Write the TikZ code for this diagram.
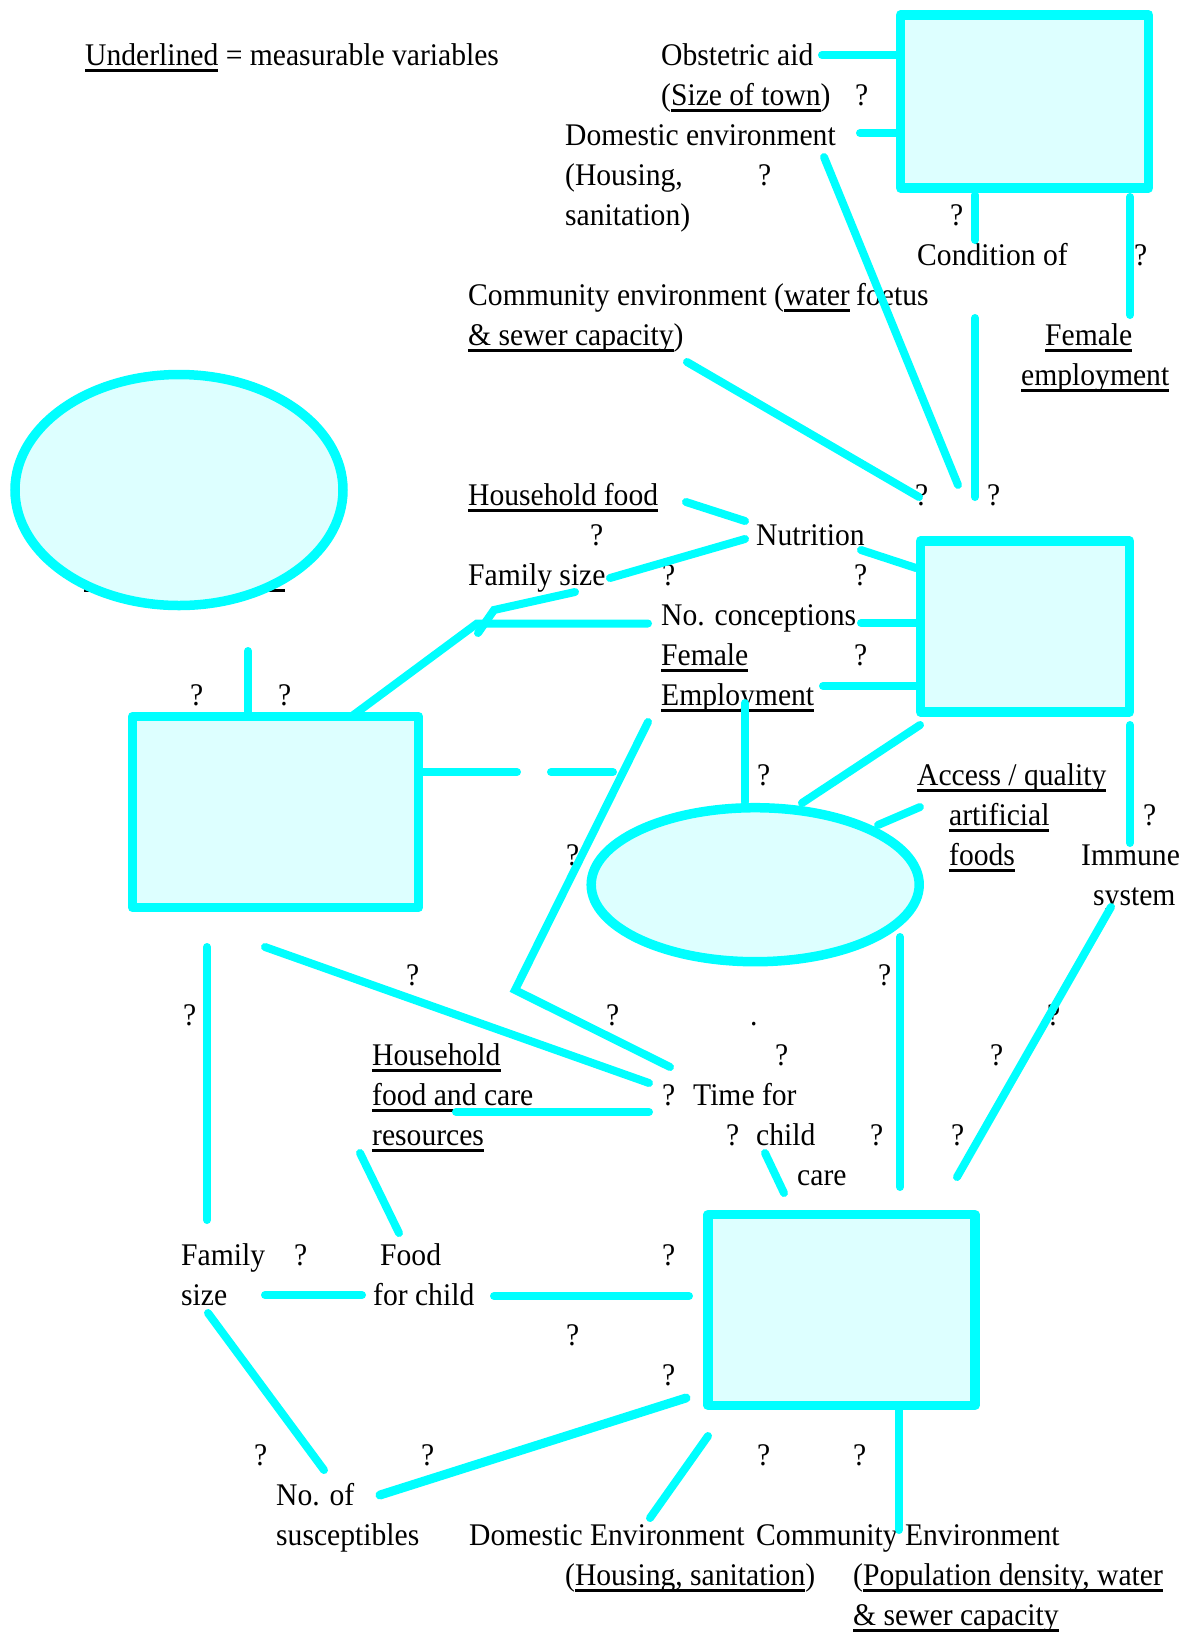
\documentclass[tikz,border=0pt]{standalone}
\usepackage{fontspec}
\setmainfont{Liberation Serif}[FakeStretch=0.94]
\usetikzlibrary{shapes.geometric}
\definecolor{aqua}{RGB}{0,255,255}
\definecolor{paleaqua}{RGB}{221,255,255}
\newsavebox{\undlbox}
\newcommand{\undl}[1]{\sbox{\undlbox}{#1}\rlap{\rule[-6.7pt]{\wd\undlbox}{3.2pt}}\usebox{\undlbox}}
\newcommand{\wordfont}{\fontsize{31.5pt}{40pt}\selectfont}
\tikzset{
  word/.style={anchor=base west, inner sep=0pt, font=\wordfont},
  link/.style={draw=aqua, line width=8pt, line cap=round},
  panel/.style={rectangle, draw=aqua, fill=paleaqua, line width=9.5pt, line join=round, inner sep=0pt},
  oval/.style={ellipse, draw=aqua, fill=paleaqua, line width=9.5pt, inner sep=0pt}
}
\begin{document}
\begin{tikzpicture}[x=1pt,y=-1pt]
\useasboundingbox (0,0) rectangle (1182,1634);
\fill[white] (0,0) rectangle (1182,1634);
% texts, top part
\node[word] (key) at (85,65) {\undl{Underlined} = measurable variables};
\node[word] (obst) at (661,65) {Obstetric aid};
\node[word] (town) at (661,105) {(\undl{Size of town})};
\node[word] (q1) at (855,105) {?};
\node[word] (domenv) at (565,145) {Domestic environment};
\node[word] (housing) at (565,185) {(Housing,};
\node[word] (q2) at (758,185) {?};
\node[word] (sanit) at (565,225) {sanitation)};
\node[word] (q3) at (950,225) {?};
\node[word] (cond) at (917,265) {Condition of};
\node[word] (q4) at (1134,265) {?};
\node[word] (commenv) at (468,305) {Community environment (\undl{water}};
\node[word] (foetus) at (856,305) {foetus};
\node[word] (sewer) at (468,345) {\undl{\& sewer capacity})};
\node[word] (femtop) at (1045,345) {\undl{Female}};
\node[word] (empltop) at (1021,385) {\undl{employment}};
% middle part
\node[word] (hhfood) at (468,505) {\undl{Household food}};
\node[word] (q5) at (915,505) {?};
\node[word] (q6) at (987,505) {?};
\node[word] (q7) at (590,545) {?};
\node[word] (nutr) at (756,545) {Nutrition};
\node[word] (famsize) at (468,585) {Family size};
\node[word] (q8) at (662,585) {?};
\node[word] (q9) at (854,585) {?};
\node[word] (concep) at (661,625) {No. conceptions};
\node[word] (femmid) at (661,665) {\undl{Female}};
\node[word] (q10) at (854,665) {?};
\node[word] (emplmid) at (661,705) {\undl{Employment}};
\node[word] (q11) at (190,705) {?};
\node[word] (q12) at (278,705) {?};
\node[word] (q13) at (757,785) {?};
\node[word] (access) at (917,785) {\undl{Access / quality}};
\node[word] (artif) at (949,825) {\undl{artificial}};
\node[word] (q14) at (1143,825) {?};
\node[word] (q15) at (566,865) {?};
\node[word] (foods) at (949,865) {\undl{foods}};
\node[word] (immune) at (1081,865) {Immune};
\node[word] (system) at (1093,905) {system};
% lower part
\node[word] (q16) at (406,985) {?};
\node[word] (q17) at (878,985) {?};
\node[word] (q18) at (183,1025) {?};
\node[word] (q19) at (606,1025) {?};
\node[word] (dot) at (750,1025) {.};
\node[word] (q20) at (1047,1025) {?};
\node[word] (hhcare) at (372,1065) {\undl{Household}};
\node[word] (q21) at (775,1065) {?};
\node[word] (q22) at (990,1065) {?};
\node[word] (foodcare) at (372,1105) {\undl{food and care}};
\node[word] (q23) at (662,1105) {?};
\node[word] (timefor) at (693,1105) {Time for};
\node[word] (resour) at (372,1145) {\undl{resources}};
\node[word] (q24) at (726,1145) {?};
\node[word] (child) at (756,1145) {child};
\node[word] (q25) at (870,1145) {?};
\node[word] (q26) at (951,1145) {?};
\node[word] (care) at (797,1185) {care};
\node[word] (family) at (181,1265) {Family};
\node[word] (q27) at (294,1265) {?};
\node[word] (food) at (380,1265) {Food};
\node[word] (q28) at (662,1265) {?};
\node[word] (size) at (181,1305) {size};
\node[word] (forchild) at (373,1305) {for child};
\node[word] (q29) at (566,1345) {?};
\node[word] (q30) at (662,1385) {?};
\node[word] (q31) at (254,1465) {?};
\node[word] (q32) at (421,1465) {?};
\node[word] (q33) at (757,1465) {?};
\node[word] (q34) at (853,1465) {?};
\node[word] (noof) at (276,1505) {No. of};
\node[word] (suscep) at (276,1545) {susceptibles};
\node[word] (domenv2) at (469,1545) {Domestic Environment};
\node[word] (commenv2) at (756,1545) {Community Environment};
\node[word] (housing2) at (565,1585) {(\undl{Housing, sanitation})};
\node[word] (popul) at (853,1585) {(\undl{Population density, water}};
\node[word] (sewer2) at (853,1625) {\undl{\& sewer capacity}};
% underline left under the left oval
\fill (84,588.8) rectangle (285,592);
% connectors
\draw[link] (822,55) -- (896,55);
\draw[link] (860,133) -- (896,133);
\draw[link] (824,157) -- (958,485);
\draw[link] (687,362) -- (919,497);
\draw[link] (975,195) -- (975,240);
\draw[link] (975,318) -- (975,497);
\draw[link] (1130,197) -- (1130,315);
\draw[link] (686,502) -- (745,521);
\draw[link] (610,578) -- (745,539);
\draw[link] (861,550) -- (916,568);
\draw[link] (861,623) -- (916,623);
\draw[link] (823,686) -- (916,686);
\draw[link] (344,722) -- (477,623.5) -- (648,623.5);
\draw[link] (575,592) -- (494,610) -- (478,633);
\draw[link] (421,772) -- (517,772);
\draw[link] (551,772) -- (613,772);
\draw[link] (648,722) -- (515,990) -- (670,1067);
\draw[link] (265,947) -- (649,1083);
\draw[link] (456,1112) -- (649,1112);
\draw[link] (207,947) -- (207,1220);
\draw[link] (360,1153) -- (399,1233);
\draw[link] (265,1295) -- (362,1295);
\draw[link] (494,1296) -- (689,1296);
\draw[link] (900,937) -- (900,1187);
\draw[link] (1111,907) -- (957,1177);
\draw[link] (765,1153) -- (784,1193);
\draw[link] (920,725) -- (802,803);
\draw[link] (920,807) -- (878,825);
\draw[link] (745,703) -- (745,802);
\draw[link] (1130,725) -- (1130,843);
\draw[link, line width=9pt] (686,1398) -- (380,1495);
\draw[link] (208,1313) -- (324,1470);
\draw[link] (708,1436) -- (650,1518);
\draw[link] (899,1410) -- (899,1530);
\draw[link] (248,651) -- (248,717);
% boxes and ovals
\node[panel, minimum width=248pt, minimum height=173pt] (topbox) at (1024.6,101.4) {};
\node[panel, minimum width=209pt, minimum height=171pt] (midbox) at (1025,626.4) {};
\node[panel, minimum width=286pt, minimum height=191pt] (leftbox) at (275.5,812) {};
\node[panel, minimum width=267pt, minimum height=190.6pt] (botbox) at (841.5,1310) {};
\node[oval, minimum width=328pt, minimum height=231pt] (leftoval) at (179,490) {};
\node[oval, minimum width=328pt, minimum height=154pt] (midoval) at (755.2,884.7) {};
\end{tikzpicture}
\end{document}
